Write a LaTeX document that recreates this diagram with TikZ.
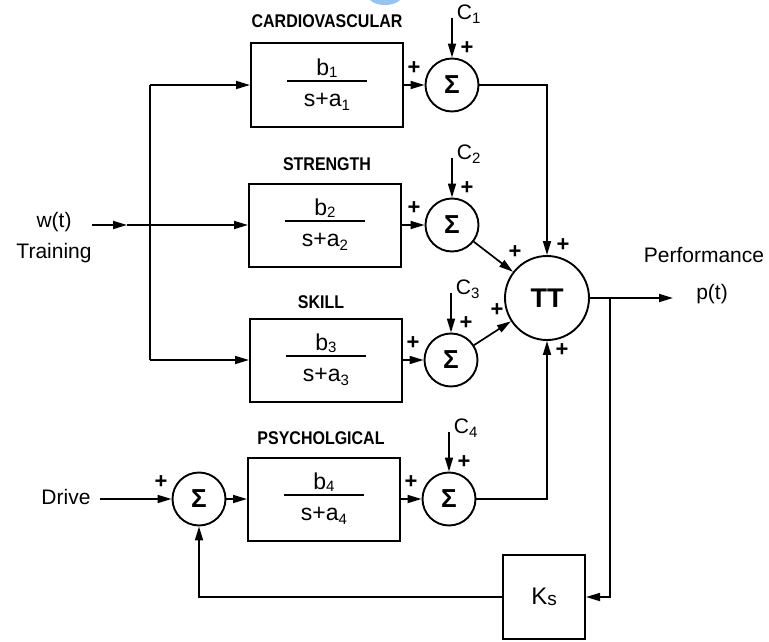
\documentclass[tikz,border=0pt]{standalone}
\usepackage{fontspec}
\setmainfont{Liberation Sans}
\usetikzlibrary{arrows.meta,calc}
\newcommand\sbsc[1]{\raisebox{-0.35ex}{\fontsize{15}{15}\selectfont #1}}
\newcommand\sbsb[1]{\raisebox{-0.15ex}{\fontsize{15}{15}\selectfont #1}}
\definecolor{blobc}{RGB}{150,195,240}
\begin{document}
\begin{tikzpicture}[x=1pt,y=-1pt,
  line width=1.7pt,
  >={Triangle[length=14pt,width=8pt]},
  blk/.style={draw,line width=2pt,minimum width=152pt,minimum height=83pt,inner sep=0pt},
  sumn/.style={draw,circle,line width=1.9pt,minimum size=53pt,inner sep=0pt,font=\fontsize{26}{26}\selectfont\bfseries},
  ttn/.style={draw,circle,line width=1.9pt,minimum size=84pt,inner sep=0pt,font=\fontsize{27}{27}\selectfont\bfseries},
  ttl/.style={font=\fontsize{16}{16}\selectfont\bfseries, inner sep=0pt},
  lbl/.style={font=\fontsize{21}{21}\selectfont, inner sep=0pt},
  pl/.style={font=\fontsize{22}{22}\selectfont\bfseries, inner sep=0pt},
  frac/.style={font=\fontsize{23}{23}\selectfont, inner sep=0pt},
]
\useasboundingbox (0,0) rectangle (769,642);
\begin{scope}
\clip (0,0) rectangle (769,642);
\fill[blobc] (385,-6) ellipse (18 and 11);
\end{scope}

% sums and product
\node[sumn] (s1) at (452,85) {Σ};
\node[sumn] (s2) at (452,225) {Σ};
\node[sumn] (s3) at (451,360) {Σ};
\node[sumn] (s4) at (449,499) {Σ};
\node[sumn] (s0) at (199,499) {Σ};
\node[ttn] (tt) at (547,298) {TT};
\node[draw,line width=2pt,minimum width=82pt,minimum height=84pt,inner sep=0pt,font=\fontsize{24}{24}\selectfont] (ks) at (544,597) {K{\fontsize{19}{19}\selectfont\raisebox{-0.15ex}{s}}};

% blocks
\foreach \i/\x/\y/\t/\tx/\ty in {1/327/85/CARDIOVASCULAR/327/21, 2/325/225/STRENGTH/327/164, 3/326/360/SKILL/321/302, 4/324/499/PSYCHOLGICAL/321/438}{
  \node[blk] (b\i) at (\x,\y) {};
  \node[ttl] (t\i) at (\tx,\ty) {\scalebox{1}[1.15]{\t}};
  \node[frac] (n\i) at ($(b\i)+(0,-17)$) {b\sbsb{\i}};
  \node[frac] (d\i) at ($(b\i)+(0,17)$) {s+a\sbsc{\i}};
  \coordinate (fl\i) at ($(b\i)+(-40,-4)$);
  \coordinate (fr\i) at ($(b\i)+(40,-4)$);
  \draw[line width=1.4pt] (fl\i) -- (fr\i);
  \draw[->] (b\i.east) -- (s\i.west);
  \coordinate (c\i) at ($(s\i.north)+(0,-40)$);
  \draw[->] (c\i) -- (s\i.north);
  \node[lbl,anchor=west] (cl\i) at ($(c\i)+(4,-3)$) {C\sbsc{\i}};
  \node[pl] (pt\i) at ($(s\i)+(15,-37)$) {+};
  \node[pl] (pw\i) at ($(s\i)+(-38,-17)$) {+};
}

% sums to product
\draw[->] (s1.east) -| (tt.north);
\draw[->] (s2) -- (tt);
\draw[->] (s3) -- (tt);
\draw[->] (s4.east) -| (tt.south);
\node[pl] (tp1) at (515,252) {+};
\node[pl] (tp2) at (563,245) {+};
\node[pl] (tp3) at (497,310) {+};
\node[pl] (tp4) at (562,350) {+};

% training input
\node[lbl] (wt) at (54,222) {w(t)};
\node[lbl] (tr) at (54,253) {Training};
\coordinate (w0) at (92,225);
\coordinate (w1) at (127,225);
\coordinate (jn) at (150,225);
\coordinate (jt) at (150,85);
\coordinate (jb) at (150,360);
\draw[->] (w0) -- (w1);
\draw (w1) -- (jn);
\draw[->] (jn) -- (b2.west);
\draw (jt) -- (jb);
\draw[->] (jt) -- (b1.west);
\draw[->] (jb) -- (b3.west);

% drive
\node[lbl] (dr) at (66,497) {Drive};
\coordinate (d0) at (100,499);
\draw[->] (d0) -- (s0.west);
\node[pl] (p0) at ($(s0)+(-38,-17)$) {+};
\draw[->] (s0.east) -- (b4.west);

% output
\coordinate (pout) at (673,298);
\draw[->] (tt.east) -- (pout);
\node[lbl] (pt) at (712,294) {p(t)};
\node[lbl] (perf) at (704,255) {Performance};
\coordinate (br) at (610,298);
\coordinate (brd) at (610,597);
\draw[->] (br) -- (brd) -- (ks.east);
\draw[->] (ks.west) -| (s0.south);
\end{tikzpicture}
\end{document}
